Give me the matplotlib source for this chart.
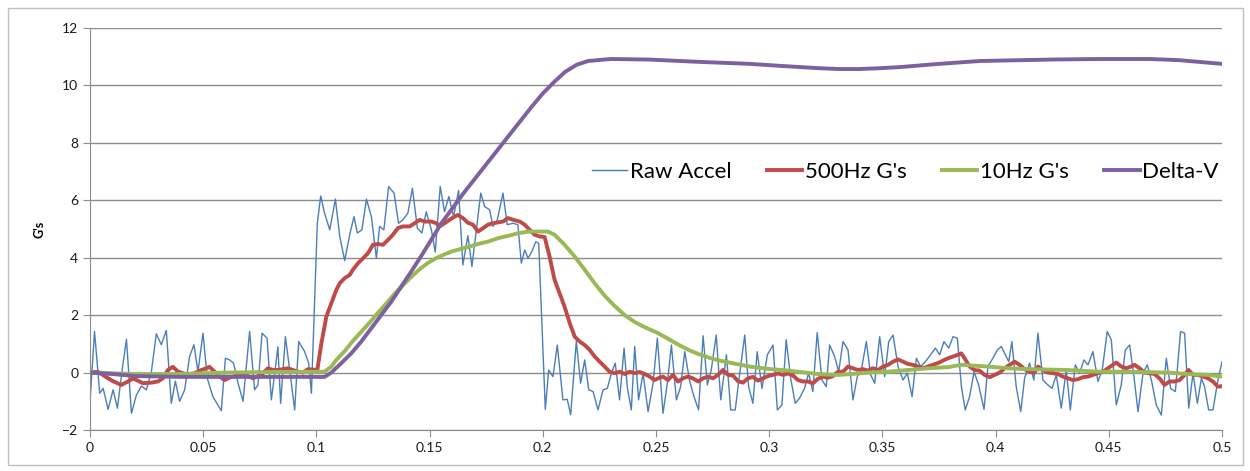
import matplotlib
matplotlib.use("Agg")
import matplotlib.pyplot as plt
from matplotlib.patches import Rectangle

plt.rcParams['font.family'] = ['Lato', 'DejaVu Sans']

# Raw accelerometer samples (time s, G's)
raw_t = [0.0000, 0.0020, 0.0043, 0.0058, 0.0080, 0.0102, 0.0121, 0.0143, 0.0161, 0.0183,
         0.0205, 0.0227, 0.0249, 0.0271, 0.0293, 0.0315, 0.0337, 0.0359, 0.0377, 0.0396,
         0.0418, 0.0440, 0.0459, 0.0477, 0.0499, 0.0518, 0.0543, 0.0580, 0.0598, 0.0617,
         0.0634, 0.0654, 0.0676, 0.0705, 0.0727, 0.0742, 0.0760, 0.0782, 0.0801, 0.0815,
         0.0830, 0.0842, 0.0863, 0.0882, 0.0904, 0.0922, 0.0948, 0.0966, 0.0978, 0.1004,
         0.1019, 0.1036, 0.1059, 0.1084, 0.1103, 0.1125, 0.1147, 0.1166, 0.1181, 0.1201,
         0.1221, 0.1243, 0.1265, 0.1279, 0.1298, 0.1319, 0.1343, 0.1363, 0.1382, 0.1404,
         0.1424, 0.1446, 0.1466, 0.1485, 0.1508, 0.1525, 0.1547, 0.1566, 0.1585, 0.1606,
         0.1628, 0.1647, 0.1669, 0.1687, 0.1726, 0.1743, 0.1765, 0.1780, 0.1799, 0.1824,
         0.1843, 0.1868, 0.1890, 0.1905, 0.1920, 0.1935, 0.1952, 0.1969, 0.1982, 0.2011,
         0.2026, 0.2045, 0.2064, 0.2089, 0.2108, 0.2123, 0.2148, 0.2167, 0.2185, 0.2203,
         0.2222, 0.2244, 0.2266, 0.2285, 0.2303, 0.2320, 0.2339, 0.2359, 0.2373, 0.2391,
         0.2406, 0.2423, 0.2443, 0.2465, 0.2487, 0.2506, 0.2531, 0.2550, 0.2568, 0.2590,
         0.2609, 0.2627, 0.2649, 0.2668, 0.2688, 0.2708, 0.2727, 0.2744, 0.2766, 0.2786,
         0.2811, 0.2830, 0.2850, 0.2869, 0.2892, 0.2909, 0.2928, 0.2947, 0.2968, 0.2992,
         0.3017, 0.3036, 0.3056, 0.3075, 0.3095, 0.3115, 0.3134, 0.3156, 0.3174, 0.3193,
         0.3212, 0.3233, 0.3252, 0.3267, 0.3289, 0.3307, 0.3326, 0.3348, 0.3370, 0.3389,
         0.3407, 0.3429, 0.3448, 0.3466, 0.3488, 0.3510, 0.3528, 0.3547, 0.3569, 0.3591,
         0.3610, 0.3631, 0.3650, 0.3669, 0.3690, 0.3713, 0.3734, 0.3753, 0.3772, 0.3793,
         0.3812, 0.3831, 0.3849, 0.3866, 0.3885, 0.3905, 0.3925, 0.3949, 0.3966, 0.3988,
         0.4008, 0.4025, 0.4040, 0.4058, 0.4072, 0.4091, 0.4111, 0.4128, 0.4150, 0.4169,
         0.4187, 0.4209, 0.4231, 0.4249, 0.4268, 0.4290, 0.4312, 0.4330, 0.4352, 0.4371,
         0.4390, 0.4408, 0.4430, 0.4452, 0.4471, 0.4493, 0.4511, 0.4533, 0.4555, 0.4573,
         0.4592, 0.4611, 0.4629, 0.4651, 0.4670, 0.4688, 0.4710, 0.4732, 0.4754, 0.4773,
         0.4794, 0.4817, 0.4835, 0.4853, 0.4872, 0.4891, 0.4909, 0.4923, 0.4941, 0.4960,
         0.4982, 0.5000]
raw_g = [-1.0, 1.43, -0.72, -0.55, -1.28, -0.6, -1.24, 0.15, 1.16, -1.42,
         -0.78, -0.47, -0.6, 0.03, 1.35, 0.97, 1.47, -1.07, -0.3, -1.0,
         -0.6, 0.56, 0.97, 0.03, 1.37, -0.2, -0.84, -1.33, 0.5, 0.44,
         0.33, -0.37, -1.0, 1.43, -0.6, -0.43, 1.37, 1.2, -0.95, -0.08,
         0.9, -1.07, 1.25, 0.09, -1.3, 1.08, 0.73, 0.33, -0.72, 5.2,
         6.15, 5.55, 4.97, 6.04, 4.74, 3.9, 4.8, 5.43, 4.86, 4.97,
         6.04, 5.43, 3.98, 5.09, 4.97, 6.48, 6.25, 5.2, 5.32, 5.55,
         6.42, 5.03, 4.86, 5.6, 4.97, 4.2, 6.48, 5.6, 6.13, 5.43,
         6.34, 3.75, 4.77, 3.69, 6.25, 5.78, 5.67, 5.09, 5.32, 6.25,
         5.15, 5.2, 5.15, 3.81, 4.27, 3.98, 4.22, 4.56, 4.5, -1.28,
         0.09, -0.14, 0.96, -0.95, -0.93, -1.47, 1.08, -0.37, 0.44, -0.6,
         -0.66, -1.3, -0.6, -0.55, -0.02, 0.33, -0.95, 0.85, -0.49, -1.3,
         0.91, -0.95, -0.02, -1.36, -0.37, 1.2, -1.42, -0.37, 0.96, -0.95,
         -0.49, 0.73, -0.31, -0.84, -1.3, 1.28, -0.43, 0.09, 1.31, -0.95,
         0.62, -1.3, -1.3, -0.08, 1.31, -0.49, -1.07, 0.73, -0.55, 0.62,
         0.96, -1.3, -1.13, 1.14, -0.2, -1.07, -0.89, -0.55, -0.02, -0.66,
         1.39, -0.26, -0.49, 0.96, 0.56, 0.03, 1.08, 0.79, -0.95, -0.14,
         0.09, 1.08, -0.08, -0.37, 1.25, -0.14, 1.08, 1.31, 0.21, -0.26,
         -0.02, -0.84, 0.5, 0.21, 0.38, 0.62, 0.85, 0.62, 1.08, 0.85,
         1.25, 1.2, -0.49, -1.3, -0.84, 0.03, -0.43, -1.28, 0.21, 0.5,
         0.79, 0.91, 0.67, 0.38, 1.08, -0.49, -1.36, -0.2, 0.33, -0.26,
         1.37, -0.26, -0.43, -0.55, -0.08, -1.24, 0.09, -1.3, 0.27, -0.02,
         0.44, 0.27, 0.73, -0.31, 0.09, 1.43, 1.14, -1.13, -0.43, 0.79,
         0.96, -0.14, -1.36, -0.02, 0.27, -0.26, -1.13, -1.48, 0.5, -0.55,
         -0.66, 1.43, 1.37, -1.24, -0.02, -1.07, -0.2, -0.49, -1.3, -1.3,
         -0.26, 0.38]

# 500 Hz filtered G's
f500_t = [0.0000, 0.0035, 0.0080, 0.0102, 0.0138, 0.0168, 0.0190, 0.0234, 0.0271, 0.0300,
          0.0322, 0.0344, 0.0366, 0.0389, 0.0411, 0.0433, 0.0462, 0.0492, 0.0514, 0.0528,
          0.0550, 0.0573, 0.0595, 0.0617, 0.0639, 0.0668, 0.0698, 0.0720, 0.0742, 0.0764,
          0.0786, 0.0808, 0.0830, 0.0874, 0.0919, 0.0941, 0.0963, 0.1004, 0.1022, 0.1044,
          0.1066, 0.1088, 0.1103, 0.1125, 0.1147, 0.1161, 0.1184, 0.1206, 0.1228, 0.1250,
          0.1272, 0.1294, 0.1316, 0.1338, 0.1360, 0.1382, 0.1412, 0.1434, 0.1456, 0.1478,
          0.1508, 0.1530, 0.1544, 0.1566, 0.1588, 0.1610, 0.1625, 0.1647, 0.1669, 0.1692,
          0.1714, 0.1736, 0.1758, 0.1780, 0.1802, 0.1824, 0.1846, 0.1869, 0.1898, 0.1920,
          0.1942, 0.1964, 0.1986, 0.2008, 0.2030, 0.2052, 0.2074, 0.2096, 0.2119, 0.2141,
          0.2163, 0.2185, 0.2207, 0.2229, 0.2251, 0.2273, 0.2295, 0.2317, 0.2340, 0.2362,
          0.2384, 0.2406, 0.2428, 0.2450, 0.2472, 0.2494, 0.2509, 0.2531, 0.2553, 0.2575,
          0.2597, 0.2619, 0.2641, 0.2663, 0.2686, 0.2708, 0.2730, 0.2752, 0.2774, 0.2796,
          0.2818, 0.2840, 0.2862, 0.2884, 0.2906, 0.2928, 0.2950, 0.2973, 0.2995, 0.3017,
          0.3039, 0.3061, 0.3083, 0.3105, 0.3127, 0.3149, 0.3171, 0.3193, 0.3215, 0.3237,
          0.3260, 0.3282, 0.3304, 0.3326, 0.3348, 0.3370, 0.3392, 0.3414, 0.3436, 0.3458,
          0.3481, 0.3503, 0.3525, 0.3547, 0.3569, 0.3591, 0.3613, 0.3635, 0.3657, 0.3679,
          0.3701, 0.3723, 0.3745, 0.3768, 0.3790, 0.3812, 0.3834, 0.3848, 0.3863, 0.3885,
          0.3907, 0.3929, 0.3951, 0.3974, 0.3996, 0.4018, 0.4040, 0.4062, 0.4084, 0.4106,
          0.4128, 0.4150, 0.4172, 0.4187, 0.4209, 0.4231, 0.4253, 0.4275, 0.4297, 0.4319,
          0.4342, 0.4364, 0.4386, 0.4408, 0.4430, 0.4452, 0.4474, 0.4496, 0.4518, 0.4533,
          0.4555, 0.4577, 0.4599, 0.4614, 0.4636, 0.4658, 0.4680, 0.4702, 0.4724, 0.4746,
          0.4768, 0.4791, 0.4813, 0.4835, 0.4852, 0.4872, 0.4894, 0.4916, 0.4938, 0.4960,
          0.4982, 0.5000]
f500_g = [0.0, 0.03, -0.2, -0.3, -0.43, -0.31, -0.2, -0.37, -0.35, -0.31,
          -0.2, 0.09, 0.2, 0.03, -0.02, -0.08, -0.02, 0.09, 0.15, 0.2,
          0.03, -0.14, -0.26, -0.17, -0.12, -0.08, -0.12, -0.2, -0.12, -0.02,
          0.15, 0.09, 0.09, 0.15, 0.03, 0.0, 0.12, 0.09, 1.02, 1.95,
          2.42, 2.88, 3.11, 3.29, 3.4, 3.58, 3.81, 3.98, 4.16, 4.45,
          4.48, 4.45, 4.62, 4.8, 5.03, 5.09, 5.09, 5.2, 5.32, 5.26,
          5.26, 5.2, 5.09, 5.2, 5.32, 5.43, 5.49, 5.38, 5.22, 5.15,
          4.91, 5.03, 5.15, 5.2, 5.23, 5.26, 5.38, 5.32, 5.26, 5.15,
          4.97, 4.8, 4.74, 4.72, 4.04, 3.23, 2.76, 2.3, 1.72, 1.25,
          1.08, 0.96, 0.79, 0.56, 0.38, 0.21, 0.03, -0.02, 0.03, -0.05,
          0.03, -0.02, 0.02, -0.05, -0.14, -0.26, -0.2, -0.14, -0.26, -0.08,
          -0.31, -0.2, -0.14, -0.2, -0.31, -0.2, -0.14, -0.2, -0.08, 0.09,
          -0.08, -0.1, -0.3, -0.35, -0.2, -0.15, -0.28, -0.2, -0.12, -0.08,
          -0.03, -0.08, -0.03, -0.1, -0.26, -0.31, -0.31, -0.37, -0.22, -0.14,
          -0.18, -0.12, 0.03, 0.03, 0.21, 0.15, 0.09, 0.12, 0.07, 0.15,
          0.09, 0.21, 0.27, 0.38, 0.46, 0.38, 0.3, 0.27, 0.21, 0.15,
          0.21, 0.27, 0.33, 0.42, 0.5, 0.56, 0.62, 0.67, 0.5, 0.21,
          0.09, 0.07, -0.08, -0.16, -0.08, 0.0, 0.15, 0.27, 0.38, 0.27,
          0.12, 0.03, 0.0, 0.21, 0.09, 0.0, -0.02, -0.05, -0.14, -0.2,
          -0.26, -0.23, -0.16, -0.14, -0.08, -0.02, 0.03, 0.15, 0.27, 0.35,
          0.21, 0.15, 0.21, 0.27, 0.15, 0.0, -0.02, -0.05, -0.2, -0.43,
          -0.31, -0.31, -0.26, -0.08, 0.09, -0.08, -0.08, -0.14, -0.2, -0.31,
          -0.49, -0.47]

# 10 Hz filtered G's
f10_t = [0.0, 0.02, 0.04, 0.06, 0.08, 0.1036, 0.1066, 0.1088, 0.1125, 0.1161,
         0.1198, 0.1235, 0.1272, 0.1308, 0.1345, 0.1382, 0.1419, 0.1456, 0.1493, 0.1530,
         0.1566, 0.1603, 0.1640, 0.1670, 0.1714, 0.1758, 0.1802, 0.1846, 0.1890, 0.1935,
         0.1979, 0.2023, 0.2052, 0.2096, 0.2141, 0.2185, 0.2229, 0.2273, 0.2317, 0.2362,
         0.2406, 0.2450, 0.2502, 0.2553, 0.2597, 0.2641, 0.2686, 0.2730, 0.2774, 0.2818,
         0.2862, 0.2906, 0.2950, 0.2995, 0.3039, 0.3083, 0.3127, 0.3171, 0.3215, 0.3260,
         0.3304, 0.3348, 0.3437, 0.3525, 0.3613, 0.3701, 0.3790, 0.3848, 0.3907, 0.3966,
         0.4055, 0.4143, 0.4319, 0.4452, 0.4584, 0.4761, 0.4849, 0.4938, 0.5000]
f10_g = [0.0, -0.05, -0.05, 0.0, 0.02, 0.03, 0.21, 0.44, 0.75, 1.1,
         1.42, 1.74, 2.08, 2.4, 2.74, 3.04, 3.33, 3.6, 3.82, 3.99,
         4.12, 4.23, 4.31, 4.37, 4.48, 4.56, 4.68, 4.76, 4.85, 4.91,
         4.91, 4.91, 4.8, 4.45, 4.04, 3.58, 3.11, 2.68, 2.32, 2.0,
         1.76, 1.58, 1.4, 1.18, 0.98, 0.8, 0.65, 0.53, 0.43, 0.36,
         0.29, 0.22, 0.17, 0.13, 0.1, 0.07, 0.03, -0.01, -0.05, -0.07,
         -0.08, -0.06, 0.0, 0.03, 0.09, 0.15, 0.19, 0.27, 0.24, 0.21,
         0.15, 0.12, 0.09, 0.03, 0.03, 0.0, -0.05, -0.08, -0.14]

# Delta-V
dv_t = [0.0, 0.01, 0.02, 0.04, 0.1036, 0.1066, 0.1110, 0.1154, 0.1198, 0.1242,
        0.1286, 0.1331, 0.1375, 0.1419, 0.1463, 0.1507, 0.1552, 0.1596, 0.1655, 0.1750,
        0.1850, 0.1950, 0.2000, 0.2050, 0.2100, 0.2150, 0.2200, 0.2300, 0.2470, 0.2690,
        0.2915, 0.3050, 0.3220, 0.3310, 0.3400, 0.3490, 0.3580, 0.3750, 0.3930, 0.4240,
        0.4460, 0.4680, 0.4810, 0.5000]
dv_v = [0.0, -0.05, -0.12, -0.15, -0.15, 0.0, 0.33, 0.67, 1.08, 1.54,
        2.0, 2.47, 3.0, 3.52, 4.06, 4.62, 5.2, 5.67, 6.3, 7.25,
        8.25, 9.25, 9.72, 10.12, 10.48, 10.72, 10.85, 10.92, 10.9, 10.82,
        10.75, 10.68, 10.6, 10.57, 10.57, 10.6, 10.64, 10.75, 10.85, 10.9,
        10.92, 10.92, 10.88, 10.75]

x_ticks = [0, 0.05, 0.1, 0.15, 0.2, 0.25, 0.3, 0.35, 0.4, 0.45, 0.5]
x_labels = ["0", "0.05", "0.1", "0.15", "0.2", "0.25", "0.3", "0.35", "0.4", "0.45", "0.5"]
y_ticks = [-2, 0, 2, 4, 6, 8, 10, 12]

fig = plt.figure(figsize=(12.5, 4.71), dpi=100)
fig.patches.append(Rectangle((0.006, 0.012), 0.988, 0.97, transform=fig.transFigure,
                             fill=False, edgecolor="#bfbfbf", linewidth=1))
ax = fig.add_axes([0.072, 0.087, 0.9056, 0.8536])

ax.plot(raw_t, raw_g, color="#4A7EBB", lw=1.0, label="Raw Accel")
ax.plot(f500_t, f500_g, color="#BE4B48", lw=2.8, label="500Hz G's")
ax.plot(f10_t, f10_g, color="#98B954", lw=2.8, label="10Hz G's")
ax.plot(dv_t, dv_v, color="#7D60A0", lw=2.8, label="Delta-V")

ax.set_xlim(0, 0.5)
ax.set_ylim(-2, 12)
ax.set_xticks(x_ticks)
ax.set_xticklabels(x_labels)
ax.set_yticks(y_ticks)
ax.yaxis.grid(True, color="#8c8c8c", lw=1)
ax.set_axisbelow(True)
for s in ["top", "right"]:
    ax.spines[s].set_visible(False)
for s in ["left", "bottom"]:
    ax.spines[s].set_color("#8c8c8c")
ax.tick_params(axis="both", colors="#8c8c8c", labelcolor="#1a1a1a", labelsize=10,
               direction="out", length=5)
ax.set_ylabel("G's", fontsize=9, fontweight="bold", labelpad=12)

leg = ax.legend(loc="center", bbox_to_anchor=(0.72, 0.642), ncol=4, frameon=False,
                fontsize=16, handlelength=1.6, handletextpad=0.1, columnspacing=1.6)

fig.savefig("out.png", dpi=100)
